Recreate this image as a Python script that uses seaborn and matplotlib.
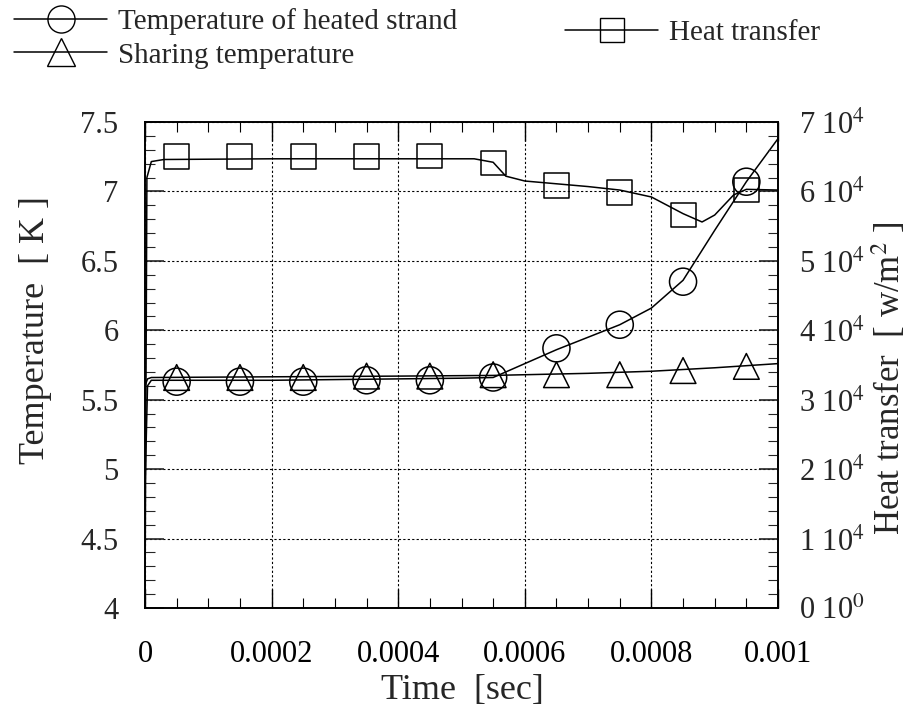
import numpy as np
import pandas as pd
import seaborn as sns
import matplotlib
matplotlib.use("Agg")
import matplotlib.pyplot as plt
from matplotlib.lines import Line2D
from matplotlib.ticker import MultipleLocator, FixedLocator, FixedFormatter

# ---------------- data ----------------
# Temperature of heated strand (curve)
t_strand = [0.0, 0.000004, 0.00001, 0.0001, 0.0002, 0.0003, 0.0004, 0.0005, 0.00055,
            0.0006, 0.00065, 0.0007, 0.00075, 0.0008, 0.00085, 0.0009, 0.00095, 0.001]
T_strand = [4.85, 5.60, 5.64, 5.64, 5.64, 5.645, 5.65, 5.655, 5.66,
            5.76, 5.86, 5.95, 6.04, 6.16, 6.36, 6.72, 7.07, 7.38]

# Sharing temperature (curve)
t_share = [0.0, 0.000004, 0.00001, 0.0002, 0.0004, 0.00055, 0.0007, 0.0008, 0.0009, 0.001]
T_share = [5.60, 5.65, 5.66, 5.665, 5.67, 5.675, 5.69, 5.705, 5.73, 5.76]

# Heat transfer (curve), W/m^2
t_heat = [0.0, 0.000003, 0.00001, 0.00003, 0.0002, 0.0004, 0.00052, 0.00055, 0.00057,
          0.0006, 0.00065, 0.0007, 0.00075, 0.0008, 0.00085, 0.00088, 0.0009, 0.00093,
          0.00095, 0.001]
q_heat = [0.0, 6.2e4, 6.43e4, 6.46e4, 6.47e4, 6.47e4, 6.47e4, 6.42e4, 6.22e4,
          6.15e4, 6.11e4, 6.07e4, 6.02e4, 5.92e4, 5.68e4, 5.56e4, 5.66e4, 5.95e4,
          6.03e4, 6.02e4]

# Marker positions
t_marks = [0.00005, 0.00015, 0.00025, 0.00035, 0.00045, 0.00055, 0.00065, 0.00075, 0.00085, 0.00095]
T_strand_marks = [5.63, 5.63, 5.63, 5.64, 5.64, 5.66, 5.87, 6.04, 6.35, 7.07]
T_share_marks = [5.66, 5.66, 5.66, 5.67, 5.67, 5.68, 5.68, 5.68, 5.71, 5.74]
q_heat_marks = [6.50e4, 6.50e4, 6.50e4, 6.50e4, 6.51e4, 6.41e4, 6.09e4, 5.99e4, 5.66e4, 6.02e4]

x_ticks = [0, 0.0002, 0.0004, 0.0006, 0.0008, 0.001]
x_ticklabels = ["0", "0.0002", "0.0004", "0.0006", "0.0008", "0.001"]
y_ticks = [4, 4.5, 5, 5.5, 6, 6.5, 7, 7.5]
y_ticklabels = ["4", "4.5", "5", "5.5", "6", "6.5", "7", "7.5"]
y2_ticks = [0, 1e4, 2e4, 3e4, 4e4, 5e4, 6e4, 7e4]
y2_ticklabels = ["0 10$^{0}$", "1 10$^{4}$", "2 10$^{4}$", "3 10$^{4}$",
                 "4 10$^{4}$", "5 10$^{4}$", "6 10$^{4}$", "7 10$^{4}$"]

labels = ["Temperature of heated strand", "Sharing temperature", "Heat transfer"]

# ---------------- style ----------------
sns.set_theme(style="white")
plt.rcParams["font.family"] = ["Liberation Serif", "DejaVu Serif"]
plt.rcParams["mathtext.fontset"] = "stix"
plt.rcParams["axes.edgecolor"] = "black"
plt.rcParams["axes.linewidth"] = 1.2

W, H = 923, 717
fig = plt.figure(figsize=(W/100, H/100), dpi=100)
ax = fig.add_axes([145/W, 1-608/H, (778-145)/W, (608-122)/H])
ax2 = ax.twinx()

lw = 1.1
df_s = pd.DataFrame({"t": t_strand, "T": T_strand})
df_sh = pd.DataFrame({"t": t_share, "T": T_share})
df_h = pd.DataFrame({"t": t_heat, "q": q_heat})

sns.lineplot(data=df_s, x="t", y="T", ax=ax, color="black", lw=lw, sort=False)
sns.lineplot(data=df_sh, x="t", y="T", ax=ax, color="black", lw=lw, sort=False)
sns.lineplot(data=df_h, x="t", y="q", ax=ax2, color="black", lw=lw, sort=False)

ms = 19.5
dfm = pd.DataFrame({"t": t_marks, "Ts": T_strand_marks, "Tsh": T_share_marks, "q": q_heat_marks})
sns.scatterplot(data=dfm, x="t", y="Ts", ax=ax, marker="o", s=ms**2,
                facecolors="none", edgecolors="black", linewidth=1.1, zorder=5)
sns.scatterplot(data=dfm, x="t", y="Tsh", ax=ax, marker="^", s=(ms*0.95)**2,
                facecolors="none", edgecolors="black", linewidth=1.1, zorder=5)
sns.scatterplot(data=dfm, x="t", y="q", ax=ax2, marker="s", s=(ms*0.92)**2,
                facecolors="none", edgecolors="black", linewidth=1.1, zorder=5)

# ---------------- axes ----------------
ax.set_xlim(0, 0.001)
ax.set_ylim(4, 7.5)
ax2.set_ylim(0, 7e4)

ax.xaxis.set_major_locator(FixedLocator(x_ticks))
ax.xaxis.set_major_formatter(FixedFormatter(x_ticklabels))
ax.xaxis.set_minor_locator(MultipleLocator(0.00005))
ax.yaxis.set_major_locator(FixedLocator(y_ticks))
ax.yaxis.set_major_formatter(FixedFormatter(y_ticklabels))
ax.yaxis.set_minor_locator(MultipleLocator(0.1))
ax2.yaxis.set_major_locator(FixedLocator(y2_ticks))
ax2.yaxis.set_major_formatter(FixedFormatter(y2_ticklabels))
ax2.yaxis.set_minor_locator(MultipleLocator(2000))

ax.tick_params(axis="x", which="both", direction="in", top=True, bottom=True, colors="black")
ax.tick_params(axis="x", which="major", length=14, width=1, labelsize=22, pad=23)
ax.tick_params(axis="x", which="minor", length=7, width=0.8)
ax.tick_params(axis="y", which="both", direction="in", left=True, right=False)
ax.tick_params(axis="y", which="major", length=14, width=1.2, labelsize=22, pad=19)
ax.tick_params(axis="y", which="minor", length=7, width=0.8)
ax2.tick_params(axis="y", which="both", direction="in", right=True)
ax2.tick_params(axis="y", which="major", length=14, width=1.2, labelsize=22, pad=15)
ax2.tick_params(axis="y", which="minor", length=7, width=0.8)

ax.grid(True, which="major", linestyle=(0, (2, 2)), color="black", linewidth=0.8)
ax2.grid(False)

ax.set_xlabel("Time  [sec]", fontsize=26)
ax.xaxis.label.set_va("center")
ax.xaxis.set_label_coords((462-145)/633, -(690-608)/486)

ax.set_ylabel("Temperature  [ K ]", fontsize=26)
ax.yaxis.label.set_va("center")
ax.yaxis.set_label_coords((36-145)/633, (608-330)/486)

ax2.set_ylabel("Heat transfer  [ w/m$^{2}$ ]", fontsize=25, rotation=90)
ax2.yaxis.label.set_va("center")
ax2.yaxis.set_label_coords((889-145)/633, (608-378)/486)

for sp in ax.spines.values():
    sp.set_color("black")

# ---------------- legends ----------------
h1 = Line2D([], [], color="black", lw=lw, marker="o", ms=ms, mfc="none", mec="black")
h2 = Line2D([], [], color="black", lw=lw, marker="^", ms=ms, mfc="none", mec="black")
h3 = Line2D([], [], color="black", lw=lw, marker="s", ms=ms*0.92, mfc="none", mec="black")
leg1 = fig.legend([h1, h2], labels[:2], loc="upper left", bbox_to_anchor=(14/W, 1-8/H),
                  frameon=False, fontsize=21, handlelength=3.2, handletextpad=0.35,
                  labelspacing=0.25, borderaxespad=0, borderpad=0)
leg2 = fig.legend([h3], labels[2:], loc="upper left", bbox_to_anchor=(565/W, 1-20/H),
                  frameon=False, fontsize=21, handlelength=3.2, handletextpad=0.35,
                  borderaxespad=0, borderpad=0)

fig.savefig("out.png", dpi=100)
